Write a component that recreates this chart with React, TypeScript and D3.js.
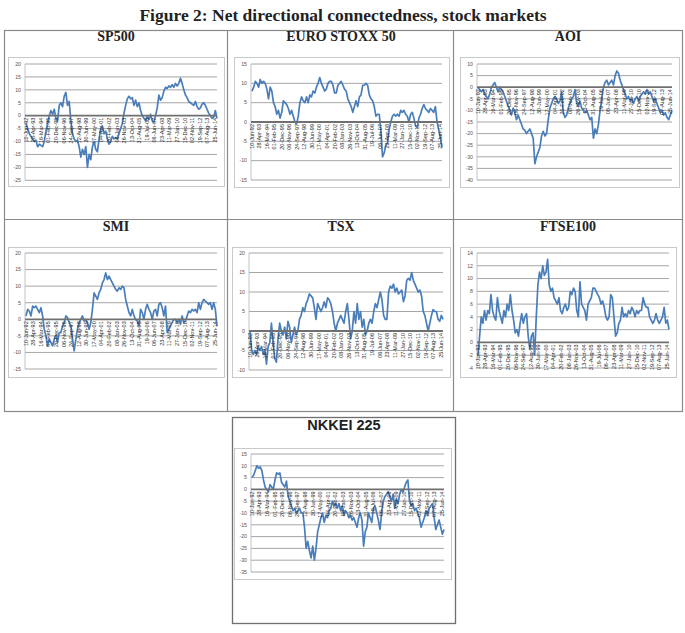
import React from 'react';
import * as d3 from 'd3';

const dateLabels = ["10-Jun-92","28-Apr-93","16-Mar-94","01-Feb-95","20-Dec-95","06-Nov-96","24-Sep-97","12-Aug-98","30-Jun-99","17-May-00","04-Apr-01","20-Feb-02","08-Jan-03","26-Nov-03","13-Oct-04","31-Aug-05","19-Jul-06","06-Jun-07","23-Apr-08","11-Mar-09","27-Jan-10","15-Dec-10","02-Nov-11","19-Sep-12","07-Aug-13","25-Jun-14"];
const labelStepWeeks = 46;
const totalWeeks = 1162;

const sp500 = [-3,-5,-7,-8,-9,-10,-9.5,-12,-11,-11.5,-12,-10,-6,-3,0,2,0.5,2.5,-1,-2,4,5,3.5,7.5,9,4,5.5,-2,-7,-9,-10,-9.5,-12,-16,-13,-15,-12,-20,-15,-17,-12,-10,-13,-14,-9,-5,-4,-7,-6,-9,-11,-10,-8,-9,-8.5,-9,-7,-5,-3,1,4,6.5,7.5,6.5,7,4,6,3.5,5,2,0,-1,-2,0,-1.5,0.5,-2,-2.5,0,3,8,6,7,9.5,11,10.5,11.5,11,12,11,12.5,11.5,12.5,14.5,12.5,10,8,7,5.5,5,4.5,4,5.5,3.5,2.5,3,4.5,5,4,2.5,1,0,-1,-0.5,2,-1];
const euroStoxx = [8,9,10.5,10,9,11,10,10.5,10,8.5,6,9,8,5,4,2,3,1,2.5,5.5,5,4.5,3.5,2,3,1.5,0,-0.5,1.5,5,6.5,5.5,5,6.5,5,7,6.5,8,7.5,9,10,11.5,10,9,8,8.5,10,10.5,10.5,9.5,7.5,7.5,9.5,10,10.5,9.5,8.5,8,6,5,4,2.5,4,5.5,4,6.5,7,9.5,9.5,10,9.5,7,6,5.5,4,1.5,2,2,-2,-9,-8,-6,-5.5,-2,0,1.5,2,1.5,2,1.5,3,2.5,3,2,1.5,0,2,2.5,1,-1,-1.5,1,2,3.5,4.5,3.5,3,2.5,3.5,3,2.5,4,0,-2,-4,-6.5];
const aoi = [0,-1,-2,-1,-3,-4,-5,-3,0,1,2,0,-2,0,-1,-2,-4,-6,-8,-10,-12,-9,-11,-14,-12,-14,-16,-18,-18.5,-20,-19,-18,-20,-22,-33,-30,-28,-26,-21,-19,-21,-20,-14,-9,-7,-5,-4,-5,-7,-6,-2,-11,-13,-12,-9,-7,-5,-4,-1,-7,-8,-6,-9,-10,-11,-10,-12,-14,-13,-22,-18,-20,-16,-10,-5,0,2,3,1,2,3,1,5,7,6,3,1,-1,-3,-5,-4,-6,-5,-7,-5,-4,-6,-4,-3,-2,-3,-1,-3,-2,-4,-6,-5,-7,-9,-11,-10,-12,-11,-13,-14,-12,-10];
const smi = [1,3,2.5,1,4,3.5,4,3,2,3.5,1,-3,-5,-8,-6,-7,-8,-6,-5,-7,-4,-4,-2,-1,1,0.5,-1,-2,-6,-9.5,-6,-3,-1,0,1,-0.5,0,-1,-3,-1,3,8,7,6,8,9,11,12,14,12,13,12,11,10,9,8.5,9.5,9,10,9.5,6,4,2,1,3,1,0,-0.5,-2,3,2,0,3,4.5,3,2,0,2.5,3,1,4.5,5,3.5,1,4,-4,-3,-2,-1,0,0,-1,0,-1.5,1,-1,-0.5,1,2.5,2,3,2.5,3,2,5,3,5,6,5.5,5,4.5,5,3,5,3,-2];
const tsx = [0,-5,-6,-5,-6,-4,-5,-4,-6,-5,-8.5,-4,-3,2,-3,-7,-8,-2,2,0,-1,1,-2,2.5,1,-3,-1,1,-1,0,3,4,6,5,7,8,9.5,9,8.5,6,3,7,6,5,6,7.5,6,8.5,8,7,5,2,0,2,3,4,3,2,5,7,3,-2,0,5,2,7,3,5,1,3,-1,0,2,3,2,5,7,6,8,10,8,4,3,3,10,11.5,11,12,10,11,9.5,10,10.5,7.5,9,13,13.5,13,15,13,12,11,10,10.5,9,5,4,2,0,2,4,5.5,5,5,3,2.5,4,3];
const ftse100 = [-2,1,4,3,5,3.5,5,4.5,7.5,5,4,3.5,7,5,4,3,5,4,6,5,7.5,5,3.5,1.5,2,1,3,4.5,3,4,4.5,1,-1,1,1.5,-2,4,9,11,10,12,10.5,11,13,9,8,8.5,7,6.5,6,7,5,4.5,5.5,6,5,5.5,8,7.5,8.5,8,5,4,9.5,6,5.5,5,3.5,6,6.5,7,8.5,8.5,8,7.5,7,6,6.5,5.5,4,3.5,4,7.5,7,4,1,1.5,3,3.5,5.5,4,4.5,4,5,4.5,5.5,5,4,5,4.5,5,5,7,6,5.5,5.5,4,3.5,3,3.5,4.5,3.5,3,3.5,4,5.5,3,3.5,2];
const nikkei225 = [5,6,8,10,9,9.5,8,4,1,0,-1,2,1,0,4,7,6.5,7,3,2,1,3.5,-3,-5,-7,-9,-8,-10,-9,-8,-10,-10,-16,-25,-22,-26,-29,-24,-30,-25,-18,-15,-12,-10,-14,-11,-12,-9,-8,-5,-7,-6,-8,-6,-9,-7,-11,-9,-10,-12,-11,-13,-12,-14,-16,-12,-10,-13,-24,-18,-16,-10,-12,-14,-8,-7,-10,-13,-17,-10,-5,-3,-2,-1,-3,-5,-2,-8,-4,-6,-2,0,-1,1,3,4,-5,-7,-6,-9,-8,-10,-12,-16,-14,-12,-9,-11,-8,-7,-6,-12,-17,-15,-13,-16,-19,-17];

const spTicks = [20,15,10,5,0,-5,-10,-15,-20,-25];
const euroTicks = [15,10,5,0,-5,-10,-15];
const aoiTicks = [10,5,0,-5,-10,-15,-20,-25,-30,-35,-40];
const smiTicks = [20,15,10,5,0,-5,-10,-15];
const tsxTicks = [20,15,10,5,0,-5,-10];
const ftseTicks = [14,12,10,8,6,4,2,0,-2,-4];
const nikkeiTicks = [15,10,5,0,-5,-10,-15,-20,-25,-30,-35];

type Box = { x: number; y: number; w: number; h: number };

function Panel(props: {
  title: string; titleX: number; titleY: number; sans?: boolean;
  box: Box; values: number[]; ticks: number[]; yTop: number; yBot: number;
}) {
  const { title, titleX, titleY, sans, box, values, ticks, yTop, yBot } = props;
  const x0 = box.x + 17;
  const x1 = box.x + box.w - 7;
  const y = d3.scaleLinear().domain([ticks[0], ticks[ticks.length - 1]]).range([yTop, yBot]);
  const x = d3.scaleLinear().domain([0, totalWeeks]).range([x0 + 1, x1]);
  const pts: [number, number][] = values.map((v, i) => [i * totalWeeks / (values.length - 1), v]);
  const line = d3.line<[number, number]>().x(d => x(d[0])).y(d => y(d[1]));
  const y0 = y(0);
  return (
    <g>
      <text x={titleX} y={titleY} textAnchor="middle"
        fontFamily={sans ? "'Liberation Sans', Arial, sans-serif" : "'Liberation Serif', 'DejaVu Serif', serif"}
        fontWeight="bold" fontSize={sans ? 14.5 : 14} fill="#222">{title}</text>
      <rect x={box.x + 0.5} y={box.y + 0.5} width={box.w} height={box.h} fill="#fff" stroke="#c9c9c9" strokeWidth={1} />
      {ticks.filter(t => t !== 0).map(t => (
        <line key={t} x1={x0} x2={x1} y1={y(t)} y2={y(t)} stroke="#9c9c9c" strokeWidth={0.9} />
      ))}
      <line x1={x0} x2={x0} y1={yTop} y2={yBot} stroke="#b5b5b5" strokeWidth={0.8} />
      {ticks.map(t => (
        <text key={'l' + t} x={x0 - 4} y={y(t) + 1.8} textAnchor="end" fontSize={5.2}
          fontFamily="'Liberation Sans', Arial, sans-serif" fill="#555">{t}</text>
      ))}
      <path d={line(pts) || ''} fill="none" stroke="#4a7ebb" strokeWidth={1.7} strokeLinejoin="round" />
      <line x1={x0} x2={x1} y1={y0} y2={y0} stroke="#707070" strokeWidth={1.8} />
      {dateLabels.map((lab, k) => {
        const lx = x(k * labelStepWeeks);
        return (
          <text key={lab} transform={`translate(${lx + 1.8},${y0 + 2}) rotate(-90)`} textAnchor="end"
            fontSize={5.5} fontFamily="'Liberation Sans', Arial, sans-serif" fill="#2a2a2a">{lab}</text>
        );
      })}
    </g>
  );
}

export default function App() {
  return (
    <svg width={685} height={633} style={{ position: 'absolute', left: 0, top: 0, background: '#fff' }}>
      <rect x={0} y={0} width={685} height={633} fill="#fff" />
      <text x={343} y={21} textAnchor="middle" fontFamily="'Liberation Serif', 'DejaVu Serif', serif"
        fontWeight="bold" fontSize={17.5} fill="#222">Figure 2: Net directional connectedness, stock markets</text>
      <rect x={4.5} y={30.5} width={678} height={381} fill="none" stroke="#8a8a8a" strokeWidth={1.2} />
      <line x1={227.5} x2={227.5} y1={30} y2={411} stroke="#8a8a8a" strokeWidth={1.2} />
      <line x1={453.5} x2={453.5} y1={30} y2={411} stroke="#8a8a8a" strokeWidth={1.2} />
      <line x1={4} x2={683} y1={219.5} y2={219.5} stroke="#8a8a8a" strokeWidth={1.2} />
      <rect x={232.5} y={417.5} width={223} height={206} fill="none" stroke="#6f6f6f" strokeWidth={1.3} />

      <Panel title="SP500" titleX={116} titleY={41} box={{ x: 8, y: 57, w: 216, h: 129 }} values={sp500} ticks={spTicks} yTop={64} yBot={180.3} />
      <Panel title="EURO STOXX 50" titleX={341} titleY={41} box={{ x: 234, y: 57, w: 215, h: 130 }} values={euroStoxx} ticks={euroTicks} yTop={64} yBot={180} />
      <Panel title="AOI" titleX={568} titleY={41} box={{ x: 460, y: 57, w: 219, h: 130 }} values={aoi} ticks={aoiTicks} yTop={64} yBot={180} />
      <Panel title="SMI" titleX={116} titleY={231} box={{ x: 8, y: 247, w: 216, h: 130 }} values={smi} ticks={smiTicks} yTop={253} yBot={369} />
      <Panel title="TSX" titleX={341} titleY={231} box={{ x: 232, y: 247, w: 218, h: 130 }} values={tsx} ticks={tsxTicks} yTop={253} yBot={370} />
      <Panel title="FTSE100" titleX={568} titleY={231} box={{ x: 460, y: 247, w: 216, h: 130 }} values={ftse100} ticks={ftseTicks} yTop={253} yBot={368} />
      <Panel title="NKKEI 225" titleX={344} titleY={430} sans box={{ x: 234, y: 448, w: 217, h: 131 }} values={nikkei225} ticks={nikkeiTicks} yTop={454} yBot={572} />
    </svg>
  );
}
